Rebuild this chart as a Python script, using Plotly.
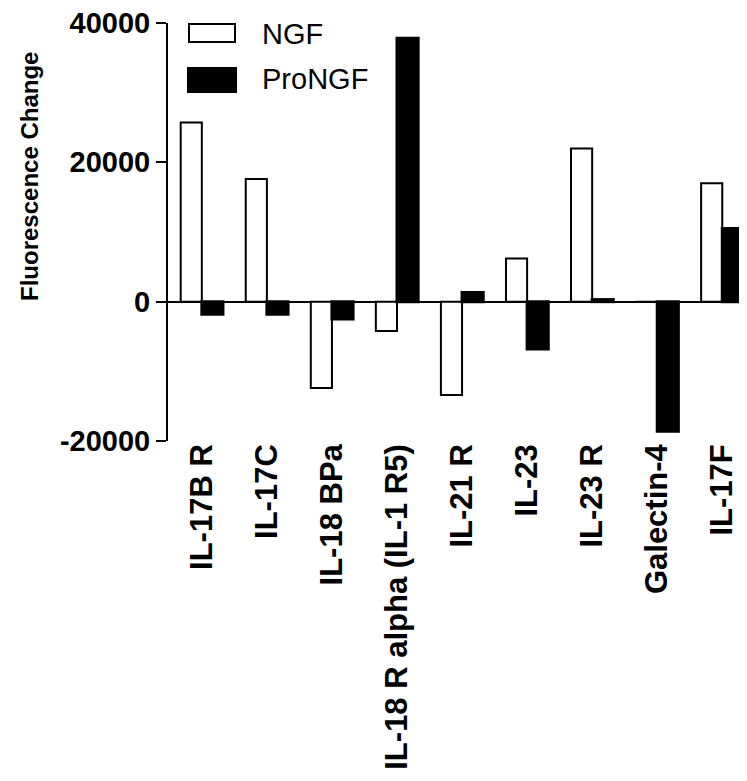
import plotly.graph_objects as go

categories = ["IL-17B R", "IL-17C", "IL-18 BPa", "IL-18 R alpha (IL-1 R5)", "IL-21 R",
              "IL-23", "IL-23 R", "Galectin-4", "IL-17F"]
ngf_values = [25700, 17600, -12400, -4200, -13400, 6200, 22000, 0, 17000]
prongf_values = [-1800, -1800, -2500, 37800, 1300, -6800, 300, -18600, 10500]
series_names = ["NGF", "ProNGF"]
y_tick_vals = [-20000, 0, 20000, 40000]
y_tick_text = ["-20000", "0", "20000", "40000"]
y_title = "Fluorescence Change"

FONT = "Liberation Sans, Arial, sans-serif"
OFF = 8  # default page body margin
W, H = 747 - OFF, 781 - OFF
L, R, T, B = 168 - OFF, 0, 23 - OFF, 781 - 441
pw, ph = W - L - R, H - T - B

def px_x(px):
    return (px - OFF - L) / pw

def px_y(py):
    return (H - B - (py - OFF)) / ph

fig = go.Figure()
fig.add_trace(go.Bar(x=categories, y=ngf_values, name=series_names[0],
                     marker=dict(color="white", line=dict(color="black", width=2)),
                     showlegend=False))
fig.add_trace(go.Bar(x=categories, y=prongf_values, name=series_names[1],
                     marker=dict(color="black", line=dict(color="black", width=3)),
                     showlegend=False))

# manual legend
fig.add_shape(type="rect", xref="paper", yref="paper",
              x0=px_x(189), x1=px_x(235), y0=px_y(42), y1=px_y(24),
              fillcolor="white", line=dict(color="black", width=2))
fig.add_shape(type="rect", xref="paper", yref="paper",
              x0=px_x(188), x1=px_x(236), y0=px_y(92), y1=px_y(68),
              fillcolor="black", line=dict(color="black", width=2))
fig.add_annotation(text=series_names[0], xref="paper", yref="paper",
                   x=px_x(260), y=px_y(34), xanchor="left", yanchor="middle",
                   showarrow=False, font=dict(family=FONT, size=29, color="black"))
fig.add_annotation(text=series_names[1], xref="paper", yref="paper",
                   x=px_x(260), y=px_y(79), xanchor="left", yanchor="middle",
                   showarrow=False, font=dict(family=FONT, size=29, color="black"))

# y-axis title
fig.add_annotation(text=y_title, xref="paper", yref="paper",
                   x=px_x(29), y=px_y(177), xanchor="center", yanchor="middle",
                   textangle=-90, showarrow=False,
                   font=dict(family=FONT, size=24, color="black", weight="bold"))

fig.update_layout(
    width=W, height=H,
    margin=dict(l=L, r=R, t=T, b=B, pad=0),
    paper_bgcolor="white", plot_bgcolor="white",
    barmode="group", bargap=0.35, bargroupgap=0,
    font=dict(family=FONT, color="black"),
)
fig.update_xaxes(
    range=[-0.52, 8.38], showline=False, showgrid=False, zeroline=False,
    ticks="", tickangle=-90, ticklabelstandoff=-4,
    tickfont=dict(family=FONT, size=31, color="black", weight="bold"),
)
fig.update_yaxes(
    range=[-20000, 40000], showgrid=False,
    showline=True, linecolor="black", linewidth=2,
    zeroline=True, zerolinecolor="black", zerolinewidth=2,
    ticks="outside", ticklen=10, tickwidth=2, tickcolor="black",
    tickvals=y_tick_vals, ticktext=y_tick_text, ticklabeloverflow="allow",
    tickfont=dict(family=FONT, size=29, color="black", weight="bold"),
)

fig.write_html("out.html")
